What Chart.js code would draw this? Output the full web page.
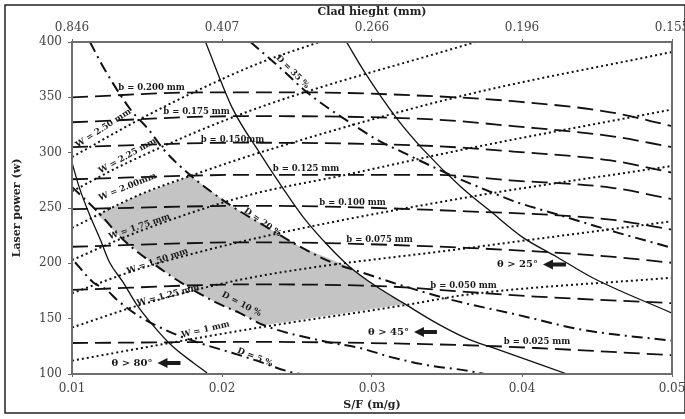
<!DOCTYPE html>
<html lang="en">
<head>
    <meta charset="UTF-8">
    <title>Process map - laser cladding</title>
    <script src="https://cdn.jsdelivr.net/npm/chart.js"></script>
    <style>
        body {
            margin: 0;
            background: #fff;
        }
        .chart-container {
            width: 685px;
            height: 419px;
            position: relative;
        }
    </style>
</head>
<body>
    <div class="chart-container">
        <canvas id="mapChart" width="685" height="419"></canvas>
    </div>

    <script>
        // Axis ranges and tick labels
        const sfRange = [0.01, 0.05];
        const powerRange = [100, 400];
        const cladHeight = ['0.846', '0.407', '0.266', '0.196', '0.155'];

        // Contact angle limits (solid)  [S/F, P]
        const theta80 = [[0.01, 291], [0.0105, 268], [0.0112, 243], [0.0119, 221], [0.0125, 201], [0.0134, 183], [0.0143, 163], [0.0154, 144], [0.0167, 125], [0.0181, 110], [0.019, 101]];
        const theta45 = [[0.0189, 400], [0.0207, 340], [0.0225, 300], [0.0241, 267], [0.0254, 242], [0.027, 217], [0.0285, 197], [0.0303, 179], [0.0321, 164], [0.0343, 146], [0.0365, 131], [0.038, 124], [0.043, 100]];
        const theta25 = [[0.0283, 400], [0.0295, 373], [0.0317, 330], [0.0334, 303], [0.0359, 269.5], [0.0379, 247], [0.0401, 223], [0.0423, 206], [0.0447, 187], [0.05, 155]];

        // Clad height b (long dashes)
        const b200 = [[0.01, 350], [0.0189, 354.5], [0.0252, 354.5], [0.0341, 351], [0.0394, 346.5], [0.0459, 336.5], [0.05, 324]];
        const b175 = [[0.01, 327.5], [0.0213, 333], [0.0341, 330], [0.0394, 324], [0.0459, 315], [0.05, 305]];
        const b150 = [[0.01, 305], [0.0212, 309], [0.0341, 306], [0.0394, 301], [0.0459, 293], [0.05, 282]];
        const b125 = [[0.01, 276], [0.022, 280], [0.0341, 280], [0.0392, 275], [0.0459, 268.5], [0.05, 258]];
        const b100 = [[0.01, 249], [0.0221, 252], [0.0363, 247], [0.0459, 239.5], [0.05, 230.5]];
        const b075 = [[0.01, 215], [0.0219, 219], [0.0363, 214], [0.0459, 206], [0.05, 200.5]];
        const b050 = [[0.01, 176], [0.0219, 181], [0.0312, 179], [0.0365, 174], [0.0409, 170], [0.05, 164]];
        const b025 = [[0.01, 128], [0.0219, 129], [0.0363, 126], [0.0409, 123.5], [0.05, 117]];

        // Clad width W (dotted)
        const w100 = [[0.01, 112], [0.0165, 128], [0.0225, 142], [0.0321, 162], [0.0365, 172], [0.05, 187]];
        const w125 = [[0.01, 142], [0.0147, 163], [0.0219, 187], [0.0365, 214], [0.05, 238]];
        const w150 = [[0.01, 173], [0.0145, 195], [0.0219, 221.5], [0.0365, 260], [0.05, 288]];
        const w175 = [[0.01, 203], [0.0145, 229], [0.0219, 262], [0.0279, 279], [0.0365, 304], [0.05, 339]];
        const w200 = [[0.01, 232], [0.0145, 262], [0.0179, 279], [0.0225, 300], [0.0359, 351], [0.05, 391]];
        const w225 = [[0.01, 265], [0.0137, 291], [0.0219, 338], [0.0369, 400]];
        const w250 = [[0.01, 296], [0.0145, 330], [0.0181, 354.5], [0.0225, 381], [0.0265, 400]];

        // Dilution D (dash-dot)
        const d35 = [[0.0219, 400], [0.0241, 374], [0.0254, 357.5], [0.027, 341], [0.0285, 327.5], [0.0303, 312], [0.0321, 300], [0.0352, 280], [0.038, 264], [0.0397, 255], [0.0419, 246], [0.0441, 237], [0.0463, 228], [0.0492, 217], [0.05, 214]];
        const d20 = [[0.0112, 400], [0.0121, 377], [0.0139, 339], [0.0151, 321], [0.0161, 303], [0.0179, 279.5], [0.0205, 253], [0.0227, 235], [0.0252, 215], [0.0272, 201.5], [0.0294, 191.5], [0.0314, 182.5], [0.0353, 167], [0.0397, 153.5], [0.044, 140], [0.05, 130]];
        const d10 = [[0.01, 269], [0.0119, 244], [0.0134, 221.5], [0.0157, 197], [0.0177, 179], [0.0197, 164], [0.0212, 155], [0.0228, 144], [0.027, 129], [0.0292, 123.5], [0.0312, 115.5], [0.0337, 108], [0.0361, 103.5], [0.0375, 100]];
        const d05 = [[0.0102, 201], [0.0114, 183], [0.0123, 176], [0.013, 167], [0.0145, 152], [0.0167, 137], [0.0185, 128], [0.0207, 119], [0.0221, 113], [0.0245, 102], [0.0252, 100]];

        // Process window (grey area)
        const shadedZone = [[0.0117, 244], [0.0145, 262], [0.0179, 279], [0.0205, 253], [0.0227, 235], [0.0252, 215], [0.0285, 197], [0.0303, 179], [0.0321, 163], [0.0228, 144], [0.0212, 155], [0.0197, 164], [0.0177, 179], [0.0157, 197], [0.0134, 221.5]];

        // Text on the map: text, S/F, P, angle (deg)
        const mapNotes = [
            ['b = 0.200 mm', 0.0153, 359, 0],
            ['b = 0.175 mm', 0.0183, 337, 0],
            ['b = 0.150mm', 0.0207, 312, 0],
            ['b = 0.125 mm', 0.0256, 285, 0],
            ['b = 0.100 mm', 0.0287, 255, 0],
            ['b = 0.075 mm', 0.0305, 221, 0],
            ['b = 0.050 mm', 0.0361, 180, 0],
            ['b = 0.025 mm', 0.041, 129, 0],
            ['W = 2.50 mm', 0.0121, 322, -33],
            ['W = 2.25 mm', 0.0137, 297, -29],
            ['W = 2.00mm', 0.0137, 269, -22],
            ['W = 1.75 mm', 0.0145, 233, -19],
            ['W = 1.50 mm', 0.0157, 202, -19],
            ['W = 1.25 mm', 0.0164, 171, -15],
            ['W = 1 mm', 0.0189, 140, -13],
            ['D = 35 %', 0.0247, 373, 45],
            ['D = 20 %', 0.0227, 237, 35],
            ['D = 10 %', 0.0213, 163, 28],
            ['D = 5 %', 0.0222, 115, 22]
        ];
        const angleNotes = [
            ['θ > 80°', 0.014, 110],
            ['θ > 45°', 0.0311, 138],
            ['θ > 25°', 0.0397, 199]
        ];

        const lineStyles = {
            theta: { width: 1.3, dash: [] },
            b: { width: 1.8, dash: [16, 7] },
            w: { width: 2, dash: [2, 3] },
            d: { width: 2, dash: [11, 5, 2, 5] }
        };

        function lineSet(points, kind) {
            const st = lineStyles[kind];
            return {
                data: points.map(([sf, p]) => ({ x: sf, y: p })),
                showLine: true,
                pointRadius: 0,
                borderColor: '#111',
                borderWidth: st.width,
                borderDash: st.dash,
                cubicInterpolationMode: 'monotone',
                fill: false
            };
        }

        const datasets = [
            ...[theta80, theta45, theta25].map(l => lineSet(l, 'theta')),
            ...[b200, b175, b150, b125, b100, b075, b050, b025].map(l => lineSet(l, 'b')),
            ...[w100, w125, w150, w175, w200, w225, w250].map(l => lineSet(l, 'w')),
            ...[d35, d20, d10, d05].map(l => lineSet(l, 'd'))
        ];

        const serif = '"DejaVu Serif", "Liberation Serif", serif';

        // grey window under the lines, labels and frames on top
        const mapDecor = {
            id: 'mapDecor',
            beforeDatasetsDraw(chart) {
                const { ctx, scales: { x, y } } = chart;
                ctx.save();
                ctx.beginPath();
                shadedZone.forEach(([sf, p], i) => {
                    const px = x.getPixelForValue(sf);
                    const py = y.getPixelForValue(p);
                    if (i === 0) ctx.moveTo(px, py); else ctx.lineTo(px, py);
                });
                ctx.closePath();
                ctx.fillStyle = '#c4c4c4';
                ctx.fill();
                ctx.restore();
            },
            afterDatasetsDraw(chart) {
                const { ctx, chartArea, scales: { x, y } } = chart;
                ctx.save();
                ctx.fillStyle = '#1a1a1a';
                ctx.textAlign = 'center';
                ctx.textBaseline = 'middle';
                ctx.font = 'bold 8.5px ' + serif;
                mapNotes.forEach(([text, sf, p, ang]) => {
                    ctx.save();
                    ctx.translate(x.getPixelForValue(sf), y.getPixelForValue(p));
                    ctx.rotate(ang * Math.PI / 180);
                    ctx.fillText(text, 0, 0);
                    ctx.restore();
                });

                ctx.font = 'bold 10px ' + serif;
                angleNotes.forEach(([text, sf, p]) => {
                    const px = x.getPixelForValue(sf);
                    const py = y.getPixelForValue(p);
                    ctx.fillText(text, px, py);
                    // arrow pointing left
                    const tip = px + ctx.measureText(text).width / 2 + 5;
                    ctx.beginPath();
                    ctx.moveTo(tip, py);
                    ctx.lineTo(tip + 10, py - 5);
                    ctx.lineTo(tip + 10, py - 2);
                    ctx.lineTo(tip + 23, py - 2);
                    ctx.lineTo(tip + 23, py + 2);
                    ctx.lineTo(tip + 10, py + 2);
                    ctx.lineTo(tip + 10, py + 5);
                    ctx.closePath();
                    ctx.fill();
                });

                // plot frame
                ctx.strokeStyle = '#6e6e6e';
                ctx.lineWidth = 2;
                ctx.strokeRect(chartArea.left, chartArea.top, chartArea.right - chartArea.left, chartArea.bottom - chartArea.top);
                ctx.restore();
            },
            afterDraw(chart) {
                const ctx = chart.ctx;
                ctx.save();
                ctx.strokeStyle = '#222';
                ctx.lineWidth = 1.5;
                ctx.strokeRect(5, 5, 680, 408);
                ctx.restore();
            }
        };

        const tickFont = { family: serif, size: 12 };
        const titleFont = { family: serif, size: 11, weight: 'bold' };

        // keep the plot edges fixed: no extra room for the end labels
        function fixHorizontal(h) {
            return s => {
                s.height = h;
                s.paddingLeft = 0;
                s.paddingRight = 0;
            };
        }

        const ctx = document.getElementById('mapChart').getContext('2d');
        const chart = new Chart(ctx, {
            type: 'scatter',
            data: { datasets: datasets },
            options: {
                responsive: false,
                animation: false,
                devicePixelRatio: 1,
                layout: { autoPadding: false, padding: { left: 11, right: 13, top: 6, bottom: 7 } },
                plugins: {
                    legend: { display: false },
                    tooltip: { enabled: false }
                },
                scales: {
                    x: {
                        type: 'linear',
                        position: 'bottom',
                        min: sfRange[0],
                        max: sfRange[1],
                        ticks: {
                            stepSize: 0.01,
                            font: tickFont,
                            color: '#444',
                            padding: 5,
                            callback: v => v.toFixed(2)
                        },
                        grid: { drawOnChartArea: false, tickLength: 3, color: '#666' },
                        border: { display: false },
                        title: { display: true, text: 'S/F (m/g)', font: titleFont, color: '#222', padding: 0 },
                        afterFit: fixHorizontal(38)
                    },
                    x2: {
                        type: 'linear',
                        position: 'top',
                        min: sfRange[0],
                        max: sfRange[1],
                        ticks: {
                            stepSize: 0.01,
                            font: tickFont,
                            color: '#444',
                            padding: 4,
                            callback: (v, i) => cladHeight[i]
                        },
                        grid: { drawOnChartArea: false, tickLength: 3, color: '#666' },
                        border: { display: false },
                        title: { display: true, text: 'Clad hieght (mm)', font: titleFont, color: '#222', padding: 0 },
                        afterFit: fixHorizontal(36)
                    },
                    y: {
                        type: 'linear',
                        min: powerRange[0],
                        max: powerRange[1],
                        ticks: { stepSize: 50, font: tickFont, color: '#444', padding: 6 },
                        grid: { drawOnChartArea: false, tickLength: 4, color: '#666' },
                        border: { display: false },
                        title: { display: true, text: 'Laser power (w)', font: titleFont, color: '#222', padding: 0 },
                        afterFit: s => {
                            s.width = 61;
                            s.paddingTop = 0;
                            s.paddingBottom = 0;
                        }
                    }
                }
            },
            plugins: [mapDecor]
        });
    </script>
</body>
</html>
